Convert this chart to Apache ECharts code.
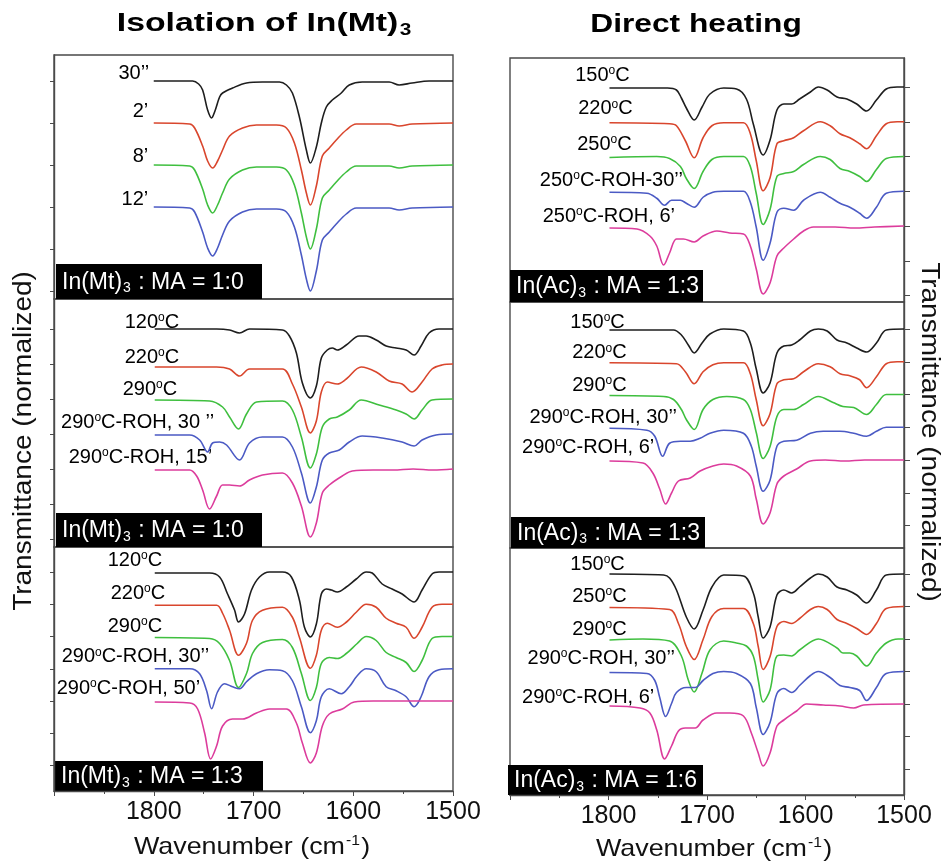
<!DOCTYPE html>
<html>
<head>
<meta charset="utf-8">
<script src="https://cdn.jsdelivr.net/npm/echarts@6.0.0/dist/echarts.min.js"></script>
<style>
html, body { margin: 0; background: #fff; }
#main { width: 943px; height: 863px; }
</style>
</head>
<body>
<div id="main"></div>
<script>
// FTIR spectra, [wavenumber cm-1, transmittance relative to own baseline (arb. units)]

// Isolation of In(Mt)3, In(Mt)3 : MA = 1:0, time series
var isoA_30s = [[1800,0],[1761,0],[1755,-3],[1751,-9],[1746,-29],[1742,-37],[1739,-31],[1734,-16],[1731,-12],[1721,-7],[1707,-2],[1691,-1],[1674,-1],[1667,-4],[1661,-12],[1654,-36],[1647,-69],[1643,-82],[1637,-66],[1632,-42],[1627,-26],[1621,-19],[1612,-12],[1604,-4],[1591,-1],[1564,-1],[1554,-4],[1541,-2],[1524,0],[1500,0]];
var isoA_2m = [[1800,0],[1764,-1],[1759,-5],[1751,-23],[1746,-38],[1741,-45],[1736,-38],[1731,-27],[1724,-13],[1711,-5],[1697,-2],[1677,-2],[1667,-5],[1659,-20],[1652,-47],[1647,-70],[1643,-82],[1637,-63],[1631,-33],[1624,-25],[1617,-17],[1607,-7],[1597,-1],[1564,-1],[1554,-3],[1541,-1],[1500,0]];
var isoA_8m = [[1800,0],[1764,-1],[1759,-5],[1751,-24],[1746,-40],[1741,-48],[1736,-40],[1731,-28],[1724,-14],[1711,-5],[1697,-2],[1677,-2],[1667,-5],[1659,-20],[1652,-48],[1647,-72],[1643,-84],[1637,-64],[1631,-33],[1624,-25],[1617,-17],[1607,-7],[1597,-1],[1564,-1],[1554,-3],[1541,-1],[1500,0]];
var isoA_12m = [[1800,0],[1764,-1],[1759,-5],[1751,-25],[1746,-41],[1741,-49],[1736,-41],[1731,-28],[1724,-14],[1711,-5],[1697,-2],[1677,-2],[1667,-5],[1659,-20],[1652,-48],[1647,-72],[1643,-84],[1637,-64],[1631,-33],[1624,-25],[1617,-17],[1607,-7],[1597,-1],[1564,-1],[1554,-3],[1541,-1],[1500,0]];
var isoA_names = ['30’’', '2’', '8’', '12’'];

// Isolation of In(Mt)3, In(Mt)3 : MA = 1:0, temperature series
var isoB_120 = [[1799,0],[1737,0],[1724,-1],[1714,-4],[1704,0],[1671,-1],[1664,-7],[1657,-24],[1651,-54],[1643,-69],[1637,-57],[1632,-29],[1626,-21],[1621,-19],[1616,-21],[1607,-16],[1594,-7],[1587,-7],[1577,-11],[1567,-17],[1557,-19],[1547,-21],[1539,-26],[1532,-17],[1524,-4],[1514,0],[1500,0]];
var isoB_220 = [[1799,-3],[1737,-3],[1724,-5],[1714,-12],[1704,-5],[1671,-5],[1661,-20],[1652,-43],[1643,-69],[1637,-57],[1632,-28],[1626,-18],[1616,-20],[1607,-15],[1592,-3],[1577,-8],[1564,-17],[1551,-20],[1541,-28],[1531,-18],[1521,-5],[1511,-1],[1500,0]];
var isoB_290 = [[1799,-1],[1744,-2],[1731,-8],[1724,-18],[1715,-30],[1707,-15],[1697,-3],[1671,-2],[1661,-11],[1652,-38],[1643,-69],[1637,-55],[1631,-28],[1624,-20],[1616,-18],[1604,-11],[1592,-1],[1574,-6],[1557,-11],[1547,-15],[1539,-20],[1531,-11],[1521,-1],[1500,0]];
var isoB_roh30 = [[1799,-1],[1764,-1],[1754,-6],[1746,-18],[1741,-9],[1734,-8],[1727,-11],[1714,-26],[1704,-9],[1691,-3],[1671,-3],[1661,-13],[1652,-39],[1643,-69],[1637,-53],[1631,-26],[1624,-19],[1614,-16],[1604,-8],[1591,-2],[1571,-4],[1551,-8],[1539,-12],[1531,-6],[1517,-1],[1500,0]];
var isoB_roh15 = [[1799,-1],[1764,-1],[1757,-7],[1751,-21],[1744,-40],[1737,-27],[1731,-16],[1724,-16],[1714,-17],[1704,-11],[1691,-6],[1671,-4],[1661,-14],[1652,-37],[1643,-68],[1637,-54],[1631,-24],[1624,-16],[1611,-7],[1601,-2],[1580,-1],[1560,-1],[1540,0],[1520,-1],[1500,0]];
var isoB_names = ['120ºC', '220ºC', '290ºC', '290ºC-ROH, 30 ’’', '290ºC-ROH, 15’'];

// Isolation of In(Mt)3, In(Mt)3 : MA = 1:3
var isoC_120 = [[1799,-1],[1744,-1],[1734,-5],[1726,-22],[1719,-38],[1715,-50],[1709,-42],[1702,-18],[1694,-5],[1684,0],[1671,0],[1662,-5],[1654,-28],[1649,-55],[1643,-65],[1637,-52],[1632,-22],[1627,-17],[1622,-18],[1616,-20],[1607,-15],[1597,-7],[1587,0],[1581,-1],[1571,-12],[1561,-17],[1551,-22],[1539,-30],[1531,-18],[1521,-2],[1514,0],[1500,0]];
var isoC_220 = [[1799,-1],[1737,-1],[1731,-9],[1724,-26],[1715,-51],[1707,-39],[1701,-16],[1691,-6],[1671,-3],[1661,-13],[1654,-33],[1643,-64],[1637,-51],[1632,-26],[1626,-19],[1616,-23],[1607,-18],[1597,-8],[1587,0],[1577,-3],[1567,-14],[1557,-19],[1547,-23],[1539,-34],[1531,-23],[1521,-3],[1511,0],[1500,0]];
var isoC_290 = [[1799,-1],[1744,-2],[1734,-7],[1724,-24],[1715,-51],[1707,-37],[1701,-17],[1691,-6],[1671,-3],[1661,-11],[1652,-37],[1643,-64],[1637,-51],[1632,-27],[1624,-21],[1616,-22],[1607,-17],[1596,-7],[1587,0],[1577,-4],[1567,-16],[1557,-21],[1547,-26],[1539,-35],[1531,-24],[1521,-2],[1511,0],[1500,0]];
var isoC_roh30 = [[1799,0],[1764,0],[1754,-5],[1747,-22],[1742,-40],[1736,-23],[1729,-15],[1721,-18],[1714,-20],[1707,-13],[1697,-5],[1684,-1],[1671,-2],[1661,-12],[1652,-38],[1643,-64],[1637,-52],[1632,-28],[1624,-20],[1612,-25],[1604,-18],[1596,-7],[1587,0],[1577,-3],[1567,-18],[1557,-22],[1547,-28],[1539,-38],[1532,-28],[1524,-8],[1514,-1],[1500,0]];
var isoC_roh50 = [[1799,-1],[1764,-2],[1756,-8],[1749,-32],[1743,-58],[1737,-45],[1731,-25],[1721,-18],[1711,-18],[1697,-12],[1684,-8],[1667,-8],[1657,-22],[1651,-42],[1643,-62],[1637,-52],[1631,-25],[1624,-13],[1611,-8],[1599,-1],[1580,0],[1500,0]];
var isoC_names = ['120ºC', '220ºC', '290ºC', '290ºC-ROH, 30’’', '290ºC-ROH, 50’'];

// Direct heating, In(Ac)3 : MA = 1:3 (250 ºC)
var dirA_150 = [[1799,-1],[1740,-1],[1731,-3],[1726,-11],[1721,-21],[1713,-33],[1705,-20],[1697,-7],[1683,-1],[1670,-2],[1660,-12],[1653,-37],[1643,-68],[1636,-53],[1629,-23],[1622,-17],[1614,-17],[1606,-12],[1595,-5],[1587,0],[1578,-3],[1568,-10],[1558,-12],[1548,-17],[1538,-24],[1528,-13],[1518,-2],[1507,0],[1500,0]];
var dirA_220 = [[1799,-1],[1738,-2],[1731,-4],[1722,-19],[1713,-36],[1704,-16],[1695,-4],[1683,-1],[1663,-1],[1656,-12],[1650,-39],[1643,-69],[1636,-56],[1629,-22],[1622,-19],[1612,-16],[1602,-9],[1585,0],[1575,-4],[1565,-12],[1555,-16],[1545,-22],[1538,-27],[1528,-14],[1518,-2],[1507,0],[1500,0]];
var dirA_250 = [[1799,-1],[1751,0],[1738,-2],[1727,-10],[1721,-22],[1713,-32],[1704,-15],[1695,-3],[1683,0],[1663,0],[1656,-10],[1650,-37],[1643,-68],[1636,-53],[1629,-20],[1622,-17],[1612,-15],[1602,-8],[1585,0],[1575,-3],[1565,-12],[1555,-15],[1545,-20],[1538,-25],[1528,-13],[1518,-2],[1500,0]];
var dirA_roh30 = [[1799,-1],[1761,-2],[1751,-7],[1743,-14],[1736,-9],[1727,-9],[1721,-12],[1713,-16],[1704,-6],[1694,-1],[1683,0],[1663,0],[1656,-11],[1650,-36],[1643,-69],[1636,-52],[1629,-21],[1622,-17],[1612,-19],[1602,-9],[1585,-1],[1575,-6],[1565,-12],[1555,-16],[1545,-22],[1538,-27],[1528,-16],[1518,-2],[1500,0]];
var dirA_roh6 = [[1799,-2],[1771,-3],[1758,-10],[1751,-20],[1744,-39],[1738,-27],[1731,-13],[1724,-13],[1713,-16],[1704,-10],[1690,-5],[1677,-7],[1663,-8],[1656,-20],[1650,-43],[1643,-68],[1636,-57],[1629,-30],[1622,-22],[1612,-13],[1602,-5],[1592,-1],[1570,-1],[1550,-2],[1530,-1],[1500,0]];
var dirA_names = ['150ºC', '220ºC', '250ºC', '250ºC-ROH-30’’', '250ºC-ROH, 6’'];

// Direct heating, In(Ac)3 : MA = 1:3 (290 ºC)
var dirB_150 = [[1799,-1],[1734,-1],[1726,-6],[1719,-16],[1713,-24],[1705,-14],[1697,-5],[1683,0],[1663,-2],[1656,-14],[1650,-40],[1643,-64],[1636,-54],[1629,-24],[1622,-17],[1614,-16],[1606,-11],[1595,-2],[1587,0],[1578,-2],[1568,-11],[1558,-14],[1548,-19],[1538,-23],[1528,-14],[1518,-1],[1500,0]];
var dirB_220 = [[1799,-1],[1731,-2],[1722,-10],[1713,-22],[1704,-10],[1694,-3],[1683,-1],[1663,-1],[1656,-12],[1650,-38],[1643,-64],[1636,-52],[1629,-22],[1622,-18],[1612,-17],[1602,-10],[1587,-2],[1575,-5],[1565,-12],[1555,-14],[1545,-18],[1538,-26],[1528,-15],[1518,-2],[1507,0],[1500,0]];
var dirB_290 = [[1799,-1],[1744,-2],[1734,-5],[1726,-15],[1721,-25],[1713,-35],[1704,-15],[1694,-5],[1680,-2],[1663,-5],[1656,-15],[1650,-38],[1643,-64],[1636,-52],[1629,-22],[1622,-15],[1612,-15],[1602,-10],[1587,-2],[1572,-8],[1562,-12],[1551,-13],[1538,-20],[1528,-10],[1518,0],[1500,0]];
var dirB_roh30 = [[1799,-1],[1761,-3],[1753,-9],[1745,-29],[1738,-16],[1727,-14],[1717,-14],[1707,-11],[1697,-6],[1683,-3],[1663,-6],[1655,-19],[1650,-39],[1643,-64],[1636,-53],[1629,-19],[1622,-14],[1609,-13],[1595,-6],[1582,-4],[1565,-4],[1551,-6],[1538,-9],[1528,-4],[1518,0],[1500,0]];
var dirB_roh6 = [[1799,-1],[1765,-3],[1755,-13],[1748,-29],[1742,-44],[1736,-33],[1729,-21],[1717,-18],[1707,-11],[1694,-6],[1683,-4],[1670,-6],[1656,-16],[1650,-39],[1643,-64],[1636,-53],[1629,-24],[1622,-16],[1609,-9],[1595,-1],[1580,0],[1560,-1],[1540,0],[1500,0]];
var dirB_names = ['150ºC', '220ºC', '290ºC', '290ºC-ROH, 30’’', '290ºC-ROH, 6’'];

// Direct heating, In(Ac)3 : MA = 1:6
var dirC_150 = [[1799,0],[1744,-1],[1738,-4],[1731,-16],[1721,-43],[1713,-55],[1704,-36],[1695,-13],[1683,-1],[1663,-2],[1653,-19],[1648,-43],[1643,-64],[1636,-53],[1629,-21],[1622,-16],[1614,-19],[1606,-13],[1595,-4],[1587,0],[1578,-3],[1568,-13],[1558,-16],[1548,-21],[1538,-29],[1528,-16],[1518,-1],[1500,0]];
var dirC_250 = [[1799,-1],[1738,-3],[1729,-17],[1721,-40],[1713,-53],[1704,-33],[1695,-10],[1683,-2],[1663,-2],[1653,-17],[1648,-40],[1643,-63],[1636,-50],[1629,-20],[1622,-15],[1614,-17],[1606,-12],[1595,-3],[1587,0],[1578,-3],[1568,-13],[1558,-17],[1548,-22],[1538,-28],[1528,-17],[1518,-2],[1500,0]];
var dirC_290 = [[1799,-1],[1765,0],[1738,-2],[1726,-17],[1719,-41],[1713,-53],[1705,-34],[1697,-11],[1683,-2],[1670,-4],[1660,-7],[1653,-17],[1648,-41],[1643,-63],[1636,-51],[1629,-17],[1622,-16],[1614,-17],[1606,-11],[1587,0],[1568,-9],[1562,-14],[1555,-14],[1548,-17],[1538,-27],[1528,-14],[1518,-4],[1506,0],[1500,0]];
var dirC_roh30 = [[1799,-1],[1761,-2],[1753,-9],[1748,-26],[1742,-45],[1736,-32],[1731,-21],[1721,-16],[1712,-16],[1704,-9],[1694,-2],[1683,0],[1670,-2],[1656,-12],[1650,-36],[1643,-63],[1636,-51],[1629,-22],[1622,-17],[1614,-21],[1606,-14],[1595,-4],[1587,0],[1575,-6],[1565,-14],[1555,-16],[1545,-19],[1538,-29],[1528,-16],[1518,-2],[1500,0]];
var dirC_roh6 = [[1799,-2],[1768,-4],[1758,-9],[1751,-26],[1743,-55],[1736,-42],[1729,-27],[1722,-24],[1712,-24],[1704,-16],[1690,-9],[1677,-9],[1663,-12],[1655,-29],[1648,-49],[1643,-62],[1636,-49],[1629,-22],[1622,-16],[1609,-7],[1599,0],[1582,-1],[1565,-2],[1551,-4],[1541,-1],[1500,0]];
var dirC_names = ['150ºC', '250ºC', '290ºC', '290ºC-ROH, 30’’', '290ºC-ROH, 6’'];

var xTicks = [1800, 1700, 1600, 1500];

var colors = ['#1e1e1e', '#d9462d', '#3fbf3f', '#4b5ac4', '#dc3c9c'];
var FONT = '"Liberation Sans", Arial, sans-serif';

// layout: grid box, y range, curve spacing, where each label ends [wn, height above baseline]
var panels = [
  { box: [54, 55, 399, 244], yr: [-218, 26], step: 42, side: 'left',
    curves: [isoA_30s, isoA_2m, isoA_8m, isoA_12m], names: isoA_names,
    lab: [[1804, 8], [1805, 12], [1805, 9], [1805, 8]],
    tag: ['In(Mt)', ' : MA = 1:0'], tagBox: [56, 264, 206, 35] },
  { box: [54, 299, 399, 248], yr: [-218, 30], step: 35, side: 'left',
    curves: [isoB_120, isoB_220, isoB_290, isoB_roh30, isoB_roh15], names: isoB_names,
    lab: [[1774, 7], [1774, 7], [1776, 10], [1739, 12], [1741, 12]],
    tag: ['In(Mt)', ' : MA = 1:0'], tagBox: [56, 513, 206, 34] },
  { box: [54, 547, 399, 244], yr: [-219, 25], step: 32.25, side: 'left', bottom: true,
    curves: [isoC_120, isoC_220, isoC_290, isoC_roh30, isoC_roh50], names: isoC_names,
    lab: [[1791, 12], [1788, 11], [1791, 10], [1744, 12], [1753, 13]],
    tag: ['In(Mt)', ' : MA = 1:3'], tagBox: [55, 761, 208, 30] },
  { box: [510, 58, 394, 244], yr: [-215, 29], step: 34.75, side: 'right',
    curves: [dirA_150, dirA_220, dirA_250, dirA_roh30, dirA_roh6], names: dirA_names,
    lab: [[1778, 12], [1775, 13], [1776, 12], [1724, 11], [1732, 10]],
    tag: ['In(Ac)', ' : MA = 1:3'], tagBox: [510, 270, 193, 32] },
  { box: [510, 302, 394, 246], yr: [-219, 27], step: 32.75, side: 'right',
    curves: [dirB_150, dirB_220, dirB_290, dirB_roh30, dirB_roh6], names: dirB_names,
    lab: [[1783, 7], [1781, 9], [1781, 9], [1730, 10], [1753, 13]],
    tag: ['In(Ac)', ' : MA = 1:3'], tagBox: [511, 517, 194, 31] },
  { box: [510, 548, 394, 247], yr: [-221, 26], step: 32.5, side: 'right', bottom: true,
    curves: [dirC_150, dirC_250, dirC_290, dirC_roh30, dirC_roh6], names: dirC_names,
    lab: [[1783, 10], [1781, 10], [1781, 10], [1732, 13], [1753, 7]],
    tag: ['In(Ac)', ' : MA = 1:6'], tagBox: [508, 765, 195, 30] }
];

// curve label: small raised "o" for the degree sign
function curveLabel(params) {
  return '{a|' + params.name.split('º').join('}{o|o}{a|') + '}';
}

var grids = [], xAxes = [], yAxes = [], series = [], graphics = [];

panels.forEach(function (p, i) {
  grids.push({
    left: p.box[0], top: p.box[1], width: p.box[2], height: p.box[3],
    show: true, borderColor: '#4a4a4a', borderWidth: 1.4, backgroundColor: 'transparent'
  });
  xAxes.push({
    gridIndex: i, type: 'value', min: 1500, max: 1900, interval: 100, inverse: true,
    axisLine: { show: !!p.bottom, onZero: false, lineStyle: { color: '#4a4a4a', width: 1.4 } },
    axisTick: { show: !!p.bottom, length: 5, lineStyle: { color: '#4a4a4a' } },
    minorTick: { show: !!p.bottom, splitNumber: 2, length: 3, lineStyle: { color: '#4a4a4a' } },
    axisLabel: {
      show: !!p.bottom, margin: 9, fontSize: 25, color: '#111', fontFamily: FONT,
      customValues: xTicks,
      formatter: function (v) { return String(v); }
    },
    splitLine: { show: false }
  });
  var ticks = [];
  for (var k = 0; k * p.step <= -p.yr[0]; k++) ticks.push(-k * p.step);
  yAxes.push({
    gridIndex: i, type: 'value', min: p.yr[0], max: p.yr[1], position: p.side,
    axisLine: { show: true, onZero: false, lineStyle: { color: '#4a4a4a', width: 1.4 } },
    axisTick: { show: true, length: p.side === 'left' ? 4 : 6, customValues: ticks, lineStyle: { color: '#4a4a4a' } },
    axisLabel: { show: false },
    splitLine: { show: false }
  });
  p.curves.forEach(function (c, k) {
    series.push({
      type: 'line', xAxisIndex: i, yAxisIndex: i, silent: true, z: 3,
      showSymbol: false, smooth: 0.35,
      lineStyle: { color: colors[k], width: 1.6 },
      data: c.map(function (d) { return [d[0], d[1] - k * p.step]; })
    });
  });
  series.push({
    type: 'scatter', xAxisIndex: i, yAxisIndex: i, silent: true, z: 1,
    symbol: 'rect', symbolSize: 1, itemStyle: { color: '#fff', opacity: 1 },
    label: {
      show: true, position: 'left', distance: 0, formatter: curveLabel,
      rich: {
        a: { fontSize: 20, color: '#000', fontFamily: FONT },
        o: { fontSize: 12, color: '#000', fontFamily: FONT, padding: [0, 0, 9, 0] }
      }
    },
    data: p.names.map(function (n, k) {
      return { name: n, value: [p.lab[k][0], p.lab[k][1] - k * p.step] };
    })
  });
  var b = p.tagBox;
  graphics.push({
    type: 'group', x: b[0], y: b[1], z: 100,
    children: [
      { type: 'rect', shape: { x: 0, y: 0, width: b[2], height: b[3] }, style: { fill: '#000' } },
      { type: 'text', x: 6, y: b[3] / 2 + 1,
        style: {
          text: '{a|' + p.tag[0] + '}{s|3}{a|' + p.tag[1] + '}',
          verticalAlign: 'middle',
          rich: {
            a: { fontSize: 23, fill: '#fff', fontFamily: FONT },
            s: { fontSize: 14, fill: '#fff', fontFamily: FONT, padding: [12, 1, 0, 1] }
          }
        } }
    ]
  });
});

// titles and axis names
graphics.push(
  { type: 'text', x: 264, y: 24, scaleX: 1.3,
    style: { text: '{t|Isolation of In(Mt)}{s|3}', align: 'center', verticalAlign: 'middle',
      rich: { t: { fontSize: 26, fontWeight: 'bold', fill: '#000', fontFamily: FONT },
              s: { fontSize: 16, fontWeight: 'bold', fill: '#000', fontFamily: FONT, padding: [13, 0, 0, 1] } } } },
  { type: 'text', x: 696, y: 25, scaleX: 1.22,
    style: { text: 'Direct heating', align: 'center', verticalAlign: 'middle',
      fontSize: 26, fontWeight: 'bold', fill: '#000', fontFamily: FONT } },
  { type: 'text', x: 24, y: 441, rotation: Math.PI / 2, scaleX: 1.12,
    style: { text: 'Transmittance (normalized)', align: 'center', verticalAlign: 'middle',
      fontSize: 25, fill: '#111', fontFamily: FONT } },
  { type: 'text', x: 929, y: 432, rotation: -Math.PI / 2, scaleX: 1.12,
    style: { text: 'Transmittance (normalized)', align: 'center', verticalAlign: 'middle',
      fontSize: 25, fill: '#111', fontFamily: FONT } }
);
[[252, 847], [714, 849]].forEach(function (c) {
  graphics.push({
    type: 'text', x: c[0], y: c[1], scaleX: 1.12,
    style: { text: '{a|Wavenumber (cm}{p|-1}{a|)}', align: 'center', verticalAlign: 'middle',
      rich: { a: { fontSize: 24, fill: '#111', fontFamily: FONT },
              p: { fontSize: 14, fill: '#111', fontFamily: FONT, padding: [0, 1, 12, 1] } } }
  });
});

var myChart = echarts.init(document.getElementById('main'));
myChart.setOption({
  animation: false,
  backgroundColor: '#fff',
  grid: grids,
  xAxis: xAxes,
  yAxis: yAxes,
  series: series,
  graphic: graphics
});
</script>
</body>
</html>
